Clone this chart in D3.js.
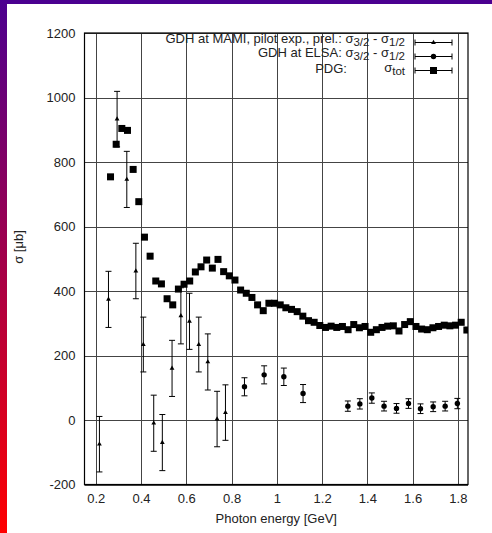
<!DOCTYPE html>
<html><head><meta charset="utf-8">
<script src="https://cdn.jsdelivr.net/npm/d3@7/dist/d3.min.js"></script>
<style>
body{margin:0;background:#fff;}
svg{display:block;font-family:"Liberation Sans",Arial,sans-serif;}
</style></head>
<body><svg id="c" width="492" height="533"></svg>
<script>
// ---- data ----
const xTicks = [0.2,0.4,0.6,0.8,1.0,1.2,1.4,1.6,1.8];
const xTickLabels = ["0.2","0.4","0.6","0.8","1","1.2","1.4","1.6","1.8"];
const yTicks = [-200,0,200,400,600,800,1000,1200];
const yTickLabels = ["-200","0","200","400","600","800","1000","1200"];

// PDG total cross section (squares)
const pdgE = [0.265,0.29,0.315,0.34,0.365,0.39,0.415,0.44,0.465,0.49,0.515,0.54,0.565,0.59,0.615,0.64,0.665,0.69,0.715,0.74,0.765,0.79,0.815,0.84,0.865,0.89,0.915,0.94,0.965,0.99,1.015,1.04,1.065,1.09,1.115,1.14,1.165,1.19,1.215,1.24,1.265,1.29,1.315,1.34,1.365,1.39,1.415,1.44,1.465,1.49,1.515,1.54,1.565,1.59,1.615,1.64,1.665,1.69,1.715,1.74,1.765,1.79,1.815,1.84];
const pdgSigma = [754,855,904,898,777,677,567,508,431,422,376,357,406,421,431,459,475,496,471,498,460,447,434,403,393,380,357,339,362,362,357,348,343,336,322,308,303,293,287,291,287,290,280,296,286,290,272,280,287,291,292,276,296,305,290,282,280,286,290,294,292,294,303,279];

// GDH at MAMI, pilot exp., prel. (sigma_3/2 - sigma_1/2)
const mamiE = [0.216,0.256,0.294,0.337,0.377,0.41,0.456,0.494,0.537,0.576,0.614,0.655,0.695,0.736,0.773];
const mamiSigma = [-75,374,933,746,462,234,-10,-70,160,323,306,234,180,3,23];
const mamiErr = [86,87,86,87,86,85,87,87,87,87,87,85,87,86,86];

// GDH at ELSA (sigma_3/2 - sigma_1/2)
const elsaE = [0.857,0.944,1.031,1.116,1.314,1.367,1.42,1.474,1.529,1.582,1.635,1.691,1.744,1.798];
const elsaSigma = [103,140,134,82,43,50,68,43,36,51,35,41,43,51];
const elsaErr = [28,28,27,28,16,16,16,15,15,15,15,15,15,16];

// ---- drawing ----
const svg = d3.select("#c");
const W = 492, H = 533;
const FS = 13;
const x = d3.scaleLinear().domain([0.15,1.845]).range([84.5,468]);
const y = d3.scaleLinear().domain([-200,1200]).range([484.5,33]);

// decorative gradient border
const defs = svg.append("defs");
const g1 = defs.append("linearGradient").attr("id","lg").attr("x1",0).attr("y1",0).attr("x2",0).attr("y2",1);
g1.append("stop").attr("offset","0%").attr("stop-color","#4b0090");
g1.append("stop").attr("offset","100%").attr("stop-color","#ff0000");
svg.append("rect").attr("x",0).attr("y",0).attr("width",W).attr("height",4).attr("fill","#4b0090");
svg.append("rect").attr("x",0).attr("y",0).attr("width",7).attr("height",H).attr("fill","url(#lg)");

// grid
const grid = svg.append("g").attr("stroke","#444").attr("stroke-width",1);
xTicks.forEach(v=>{
  grid.append("line").attr("x1",Math.round(x(v))+0.5).attr("x2",Math.round(x(v))+0.5).attr("y1",y(1200)).attr("y2",y(-200));
});
yTicks.forEach(v=>{
  grid.append("line").attr("y1",Math.round(y(v))+0.5).attr("y2",Math.round(y(v))+0.5).attr("x1",x(0.15)).attr("x2",x(1.845));
});

// axes (labels via d3 axes)
const xAxis = d3.axisBottom(x).tickValues(xTicks).tickFormat((d,i)=>xTickLabels[i]).tickSize(0).tickPadding(9);
const xa = svg.append("g").attr("transform",`translate(0,${y(-200)})`).call(xAxis);
xa.select(".domain").remove();
const yAxis = d3.axisLeft(y).tickValues(yTicks).tickFormat((d,i)=>yTickLabels[i]).tickSize(0).tickPadding(9);
const ya = svg.append("g").attr("transform",`translate(${x(0.15)},0)`).call(yAxis);
ya.select(".domain").remove();
svg.selectAll(".tick text").attr("font-size",FS).attr("fill","#222").attr("font-family","'Liberation Sans',Arial,sans-serif");

// frame
svg.append("rect").attr("x",x(0.15)).attr("y",y(1200)).attr("width",x(1.845)-x(0.15)).attr("height",y(-200)-y(1200))
  .attr("fill","none").attr("stroke","#000").attr("stroke-width",1.2);

// axis titles
svg.append("text").attr("x",(x(0.15)+x(1.845))/2).attr("y",523).attr("text-anchor","middle").attr("font-size",FS).attr("fill","#222").text("Photon energy [GeV]");
svg.append("text").attr("transform","translate(23,247) rotate(-90)").attr("text-anchor","middle").attr("font-size",FS).attr("fill","#222").text("σ [μb]");

// clip
defs.append("clipPath").attr("id","clip").append("rect").attr("x",x(0.15)).attr("y",y(1200)).attr("width",x(1.845)-x(0.15)).attr("height",y(-200)-y(1200));
const plot = svg.append("g").attr("clip-path","url(#clip)");

function errbar(g, cx, lo, hi, cap){
  g.append("line").attr("x1",cx).attr("x2",cx).attr("y1",lo).attr("y2",hi).attr("stroke","#000").attr("stroke-width",1);
  g.append("line").attr("x1",cx-cap).attr("x2",cx+cap).attr("y1",lo).attr("y2",lo).attr("stroke","#000").attr("stroke-width",1);
  g.append("line").attr("x1",cx-cap).attr("x2",cx+cap).attr("y1",hi).attr("y2",hi).attr("stroke","#000").attr("stroke-width",1);
}

// PDG squares
plot.selectAll("rect.pdg").data(pdgE).join("rect").attr("class","pdg")
  .attr("x",(d)=>x(d)-3.5).attr("y",(d,i)=>y(pdgSigma[i])-3.5).attr("width",7).attr("height",7).attr("fill","#000");

// MAMI
const tri = d3.symbol().type(d3.symbolTriangle).size(10);
mamiE.forEach((e,i)=>{
  errbar(plot, x(e), y(mamiSigma[i]-mamiErr[i]), y(mamiSigma[i]+mamiErr[i]), 3);
  plot.append("path").attr("d",tri()).attr("transform",`translate(${x(e)},${y(mamiSigma[i])})`).attr("fill","#000");
});

// ELSA
elsaE.forEach((e,i)=>{
  errbar(plot, x(e), y(elsaSigma[i]-elsaErr[i]), y(elsaSigma[i]+elsaErr[i]), 3);
  plot.append("circle").attr("cx",x(e)).attr("cy",y(elsaSigma[i])).attr("r",2.7).attr("fill","#000");
});

// legend
const SUB = 11.5, DY = 3;
const leg = svg.append("g").attr("font-size",FS).attr("fill","#222");
const rows = [42.5,56.5,70.5];
let t1 = leg.append("text").attr("x",405).attr("y",rows[0]).attr("text-anchor","end");
t1.append("tspan").text("GDH at MAMI, pilot exp., prel.: σ");
t1.append("tspan").attr("dy",DY).attr("font-size",SUB).text("3/2");
t1.append("tspan").attr("dy",-DY).text(" - σ");
t1.append("tspan").attr("dy",DY).attr("font-size",SUB).text("1/2");
let t2 = leg.append("text").attr("x",405).attr("y",rows[1]).attr("text-anchor","end");
t2.append("tspan").text("GDH at ELSA: σ");
t2.append("tspan").attr("dy",DY).attr("font-size",SUB).text("3/2");
t2.append("tspan").attr("dy",-DY).text(" - σ");
t2.append("tspan").attr("dy",DY).attr("font-size",SUB).text("1/2");
leg.append("text").attr("x",347).attr("y",rows[2]+2).attr("text-anchor","end").text("PDG:");
let t3 = leg.append("text").attr("x",405).attr("y",rows[2]+1).attr("text-anchor","end");
t3.append("tspan").text("σ");
t3.append("tspan").attr("dy",DY).attr("font-size",SUB).text("tot");

rows.forEach((ry,i)=>{
  const lg = svg.append("g");
  lg.append("line").attr("x1",415).attr("x2",452).attr("y1",ry).attr("y2",ry).attr("stroke","#000");
  lg.append("line").attr("x1",415).attr("x2",415).attr("y1",ry-3).attr("y2",ry+3).attr("stroke","#000");
  lg.append("line").attr("x1",452).attr("x2",452).attr("y1",ry-3).attr("y2",ry+3).attr("stroke","#000");
  if(i===0) lg.append("path").attr("d",tri()).attr("transform",`translate(433.5,${ry})`).attr("fill","#000");
  if(i===1) lg.append("circle").attr("cx",433.5).attr("cy",ry).attr("r",2.7).attr("fill","#000");
  if(i===2) lg.append("rect").attr("x",430).attr("y",ry-3.5).attr("width",7).attr("height",7).attr("fill","#000");
});
</script></body></html>
